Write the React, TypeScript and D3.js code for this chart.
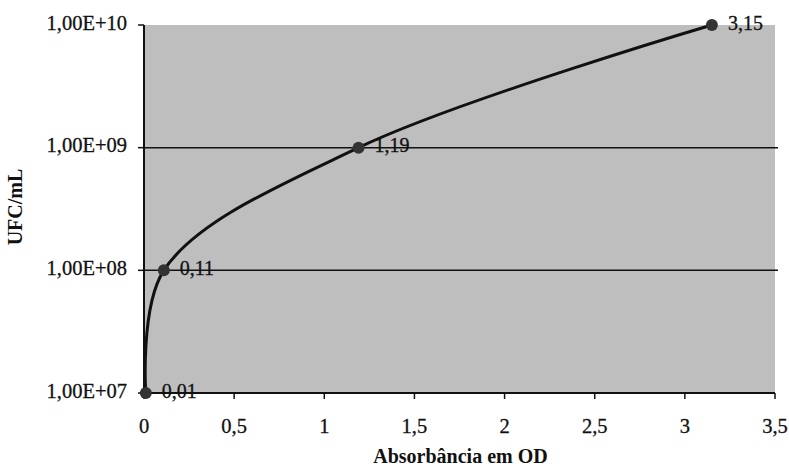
import React from "react";
import * as d3 from "d3";

// dados da curva
const od = [0.01, 0.11, 1.19, 3.15];
const ufc = [1e7, 1e8, 1e9, 1e10];
const pointLabels = ["0,01", "0,11", "1,19", "3,15"];
const xTickValues = [0, 0.5, 1, 1.5, 2, 2.5, 3, 3.5];
const xTickLabels = ["0", "0,5", "1", "1,5", "2", "2,5", "3", "3,5"];
const yTickValues = [1e7, 1e8, 1e9, 1e10];
const yTickLabels = ["1,00E+07", "1,00E+08", "1,00E+09", "1,00E+10"];

export default function App() {
  const width = 789,
    height = 471;
  const left = 144,
    right = 775,
    top = 25,
    bottom = 393;
  const font = "'Liberation Serif', 'Times New Roman', serif";

  const xScale = d3.scaleLinear().domain([0, 3.5]).range([left, right]);
  const yScale = d3.scaleLog().domain([1e7, 1e10]).range([bottom, top]);

  const pts: [number, number][] = od.map((v, i) => [xScale(v), yScale(ufc[i])]);
  const line = d3
    .line<[number, number]>()
    .x((d) => d[0])
    .y((d) => d[1])
    .curve(d3.curveCatmullRom.alpha(0.5));

  return (
    <svg
      width={width}
      height={height}
      style={{ position: "absolute", left: 0, top: 0 }}
    >
      <rect x={0} y={0} width={width} height={height} fill="white" />
      {/* área do gráfico */}
      <rect
        x={left}
        y={top}
        width={right - left}
        height={bottom - top}
        fill="#bebebe"
      />
      {/* linhas de grade */}
      {yTickValues.slice(1, 3).map((t) => (
        <line
          key={t}
          x1={left}
          x2={right + 3}
          y1={yScale(t)}
          y2={yScale(t)}
          stroke="#111"
          strokeWidth={1.5}
        />
      ))}
      {/* eixo y */}
      <line x1={left} x2={left} y1={top} y2={bottom} stroke="#111" strokeWidth={2} />
      {yTickValues.map((t, i) => (
        <g key={t}>
          <line
            x1={left - 6}
            x2={left}
            y1={yScale(t)}
            y2={yScale(t)}
            stroke="#111"
            strokeWidth={1.5}
          />
          <text
            x={left - 17}
            y={yScale(t)}
            textAnchor="end"
            dominantBaseline="middle"
            fontFamily={font}
            fontSize={20.5}
            fill="#111"
            stroke="#111"
            strokeWidth={0.3}
          >
            {yTickLabels[i]}
          </text>
        </g>
      ))}
      {/* eixo x */}
      <line x1={left} x2={right} y1={bottom} y2={bottom} stroke="#111" strokeWidth={2} />
      {xTickValues.map((t, i) => (
        <g key={t}>
          <line
            x1={xScale(t)}
            x2={xScale(t)}
            y1={bottom}
            y2={bottom + 6}
            stroke="#111"
            strokeWidth={1.5}
          />
          <text
            x={xScale(t)}
            y={bottom + 40}
            textAnchor="middle"
            fontFamily={font}
            fontSize={20.5}
            fill="#111"
            stroke="#111"
            strokeWidth={0.3}
          >
            {xTickLabels[i]}
          </text>
        </g>
      ))}
      {/* curva */}
      <path d={line(pts) ?? ""} fill="none" stroke="#111" strokeWidth={3} />
      {pts.map((p, i) => (
        <g key={i}>
          <circle cx={p[0]} cy={p[1]} r={6} fill="#333" />
          <text
            x={p[0] + 16}
            y={p[1]}
            dominantBaseline="middle"
            fontFamily={font}
            fontSize={20}
            fill="#111"
            stroke="#111"
            strokeWidth={0.3}
          >
            {pointLabels[i]}
          </text>
        </g>
      ))}
      {/* títulos dos eixos */}
      <text
        x={(left + right) / 2 + 1}
        y={463}
        textAnchor="middle"
        fontFamily={font}
        fontSize={20}
        fontWeight="bold"
        fill="#111"
      >
        Absorbância em OD
      </text>
      <text
        transform={`translate(22, 207) rotate(-90)`}
        textAnchor="middle"
        fontFamily={font}
        fontSize={20}
        fontWeight="bold"
        fill="#111"
      >
        UFC/mL
      </text>
    </svg>
  );
}
